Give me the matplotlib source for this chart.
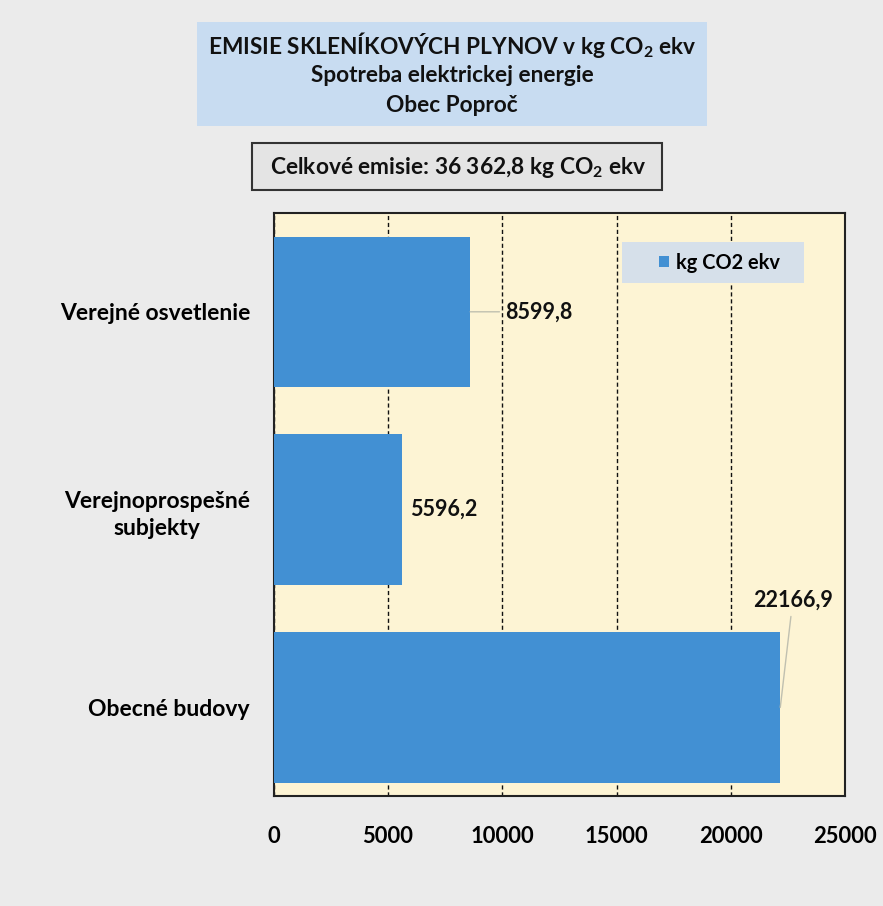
import matplotlib.pyplot as plt
from matplotlib.patches import Rectangle

# data
categories = ['Obecné budovy', 'Verejnoprospešné\nsubjekty', 'Verejné osvetlenie']
values = [22166.9, 5596.2, 8599.8]
value_labels = ['22166,9', '5596,2', '8599,8']
x_ticks = [0, 5000, 10000, 15000, 20000, 25000]
series_name = 'kg CO2 ekv'
title_lines = ['EMISIE SKLENÍKOVÝCH PLYNOV v kg CO$_2$ ekv',
               'Spotreba elektrickej energie',
               'Obec Poproč']
total_text = 'Celkové emisie: 36 362,8 kg CO$_2$ ekv'

plt.rcParams['font.family'] = ['Lato', 'DejaVu Sans']
plt.rcParams['font.weight'] = 'bold'
plt.rcParams['mathtext.fontset'] = 'custom'
plt.rcParams['mathtext.rm'] = 'Lato:bold'
plt.rcParams['mathtext.it'] = 'Lato:bold'
plt.rcParams['mathtext.bf'] = 'Lato:bold'

fig = plt.figure(figsize=(8.83, 9.06), dpi=100, facecolor='#ebebeb')
ax = fig.add_axes([0.310, 0.121, 0.647, 0.644])
ax.set_facecolor('#fdf4d4')

# title box
fig.patches.append(Rectangle((197 / 883, 1 - 126 / 906), 510 / 883, 104 / 906,
                             transform=fig.transFigure, facecolor='#c8dcf1',
                             edgecolor='none', zorder=0))
for i, line in enumerate(title_lines):
    fig.text(0.512, 1 - (45 + 30 * i) / 906, line, ha='center', va='center',
             fontsize=16.3, fontweight='bold', color='#111111')

# total box
fig.patches.append(Rectangle((252 / 883, 1 - 190 / 906), 410 / 883, 47 / 906,
                             transform=fig.transFigure, facecolor='#e4e4e4',
                             edgecolor='#333333', linewidth=1.5, zorder=0))
fig.text(0.519, 1 - 167 / 906, total_text, ha='center', va='center',
         fontsize=16.4, fontweight='bold', color='#111111')

ypos = list(range(len(categories)))
ax.barh(ypos, values, height=0.76, color='#4290d3', zorder=3, label=series_name)

# value labels: offsets in points, with optional leader line
offsets = [(9, 77), (6, 0), (25, 0)]
aligns = ['center', 'left', 'left']
for i, (v, lab) in enumerate(zip(values, value_labels)):
    dx, dy = offsets[i]
    arrow = None
    if dx > 8:
        arrow = dict(arrowstyle='-', color='#c0c0b0', lw=1, shrinkA=2, shrinkB=0)
    ax.annotate(lab, xy=(v, i), xytext=(dx, dy), textcoords='offset points',
                ha=aligns[i], va='center', fontsize=15.5, fontweight='bold',
                color='#111111', arrowprops=arrow, zorder=4)

ax.set_xlim(0, 25000)
ax.set_ylim(-0.45, 2.5)
ax.set_xticks(x_ticks)
ax.set_xticklabels([str(t) for t in x_ticks])
ax.set_yticks(ypos)
ax.set_yticklabels(categories, linespacing=1.4, ha='right', multialignment='center')
ax.tick_params(axis='x', length=0, pad=21, labelsize=15.8)
ax.tick_params(axis='y', length=0, pad=17, labelsize=16.5)
ax.xaxis.grid(True, color='#111111', linestyle=(0, (3, 2)), linewidth=1)
ax.set_axisbelow(True)
for s in ax.spines.values():
    s.set_color('#222222')
    s.set_linewidth(1.5)

# legend box
ax.add_patch(Rectangle((0.609, 0.880), 0.320, 0.070, transform=ax.transAxes,
                       facecolor='#d6e0ea', edgecolor='none', zorder=5))
leg = ax.legend(loc='center left', bbox_to_anchor=(0.675, 0.915), frameon=False,
                handlelength=0.5, handleheight=0.5, handletextpad=0.35,
                borderpad=0, borderaxespad=0, prop={'size': 14.4, 'weight': 'bold'})
leg.set_zorder(6)

fig.savefig('out.png', dpi=100, facecolor=fig.get_facecolor())
